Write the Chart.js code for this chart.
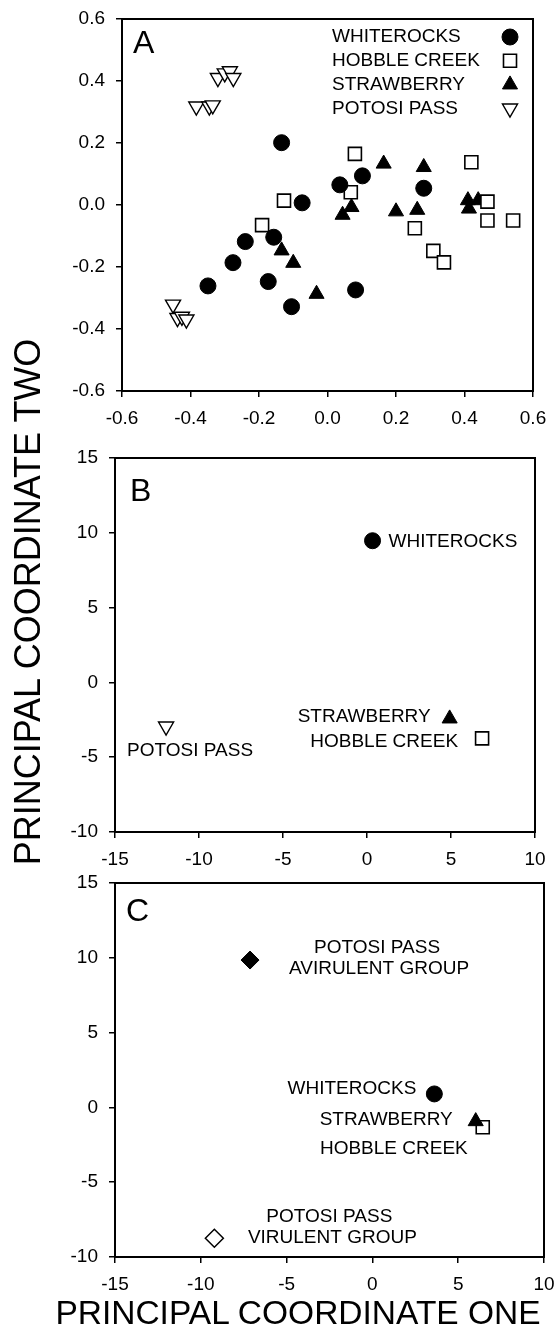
<!DOCTYPE html>
<html>
<head>
<meta charset="utf-8">
<script src="https://cdn.jsdelivr.net/npm/chart.js@4.4.0/dist/chart.umd.min.js"></script>
<style>
  html,body{margin:0;padding:0;background:#fff;}
  body{width:556px;height:1339px;position:relative;overflow:hidden;font-family:"Liberation Sans",Arial,sans-serif;}
  .panel{position:absolute;left:0;width:556px;}
  #ytitle{position:absolute;left:-272px;top:582px;width:600px;height:40px;line-height:40px;text-align:center;font-size:36px;color:#000;transform:rotate(-90deg);transform-origin:50% 50%;white-space:nowrap;}
  #xtitle{position:absolute;left:0;top:1293px;width:596px;height:40px;line-height:40px;text-align:center;font-size:33.5px;color:#000;white-space:nowrap;}
</style>
</head>
<body>
<div class="panel" style="top:0px;height:440px;"><canvas id="cA" width="556" height="440"></canvas></div>
<div class="panel" style="top:440px;height:440px;"><canvas id="cB" width="556" height="440"></canvas></div>
<div class="panel" style="top:860px;height:440px;"><canvas id="cC" width="556" height="440"></canvas></div>
<div id="ytitle">PRINCIPAL COORDINATE TWO</div>
<div id="xtitle">PRINCIPAL COORDINATE ONE</div>
<script>
// ---------------- DATA ----------------
// Panel A
const seriesNamesA = ['WHITEROCKS', 'HOBBLE CREEK', 'STRAWBERRY', 'POTOSI PASS'];
const whiterocksA = [
  [-0.134, 0.201], [-0.074, 0.007], [-0.240, -0.118], [-0.157, -0.104],
  [-0.276, -0.186], [-0.173, -0.247], [-0.349, -0.261], [-0.105, -0.328],
  [0.102, 0.094], [0.036, 0.065], [0.281, 0.054], [0.082, -0.274]
];
const hobbleCreekA = [
  [-0.127, 0.014], [-0.191, -0.065], [0.080, 0.165], [0.420, 0.138],
  [0.068, 0.041], [0.467, 0.011], [0.467, -0.050], [0.542, -0.050],
  [0.255, -0.075], [0.309, -0.148], [0.340, -0.185]
];
const strawberryA = [
  [-0.134, -0.147], [-0.100, -0.187], [-0.032, -0.287], [0.164, 0.133],
  [0.281, 0.122], [0.070, -0.007], [0.044, -0.032], [0.200, -0.021],
  [0.262, -0.016], [0.410, 0.015], [0.440, 0.015], [0.413, -0.012]
];
const potosiPassA = [
  [-0.320, 0.410], [-0.300, 0.425], [-0.285, 0.432], [-0.275, 0.410],
  [-0.383, 0.318], [-0.345, 0.318], [-0.335, 0.322],
  [-0.451, -0.321], [-0.438, -0.364], [-0.425, -0.360], [-0.412, -0.369]
];
const xTickValsA = [-0.6, -0.4, -0.2, 0.0, 0.2, 0.4, 0.6];
const xTickLabelsA = ['-0.6', '-0.4', '-0.2', '0.0', '0.2', '0.4', '0.6'];
const yTickValsA = [-0.6, -0.4, -0.2, 0.0, 0.2, 0.4, 0.6];
const yTickLabelsA = ['-0.6', '-0.4', '-0.2', '0.0', '0.2', '0.4', '0.6'];

// Panel B (group centroids)
const namesB = ['WHITEROCKS', 'STRAWBERRY', 'HOBBLE CREEK', 'POTOSI PASS'];
const xB = [0.33, 4.92, 6.85, -11.96];
const yB = [9.47, -2.42, -3.74, -2.94];
const xTickValsB = [-15, -10, -5, 0, 5, 10];
const xTickLabelsB = ['-15', '-10', '-5', '0', '5', '10'];
const yTickValsB = [-10, -5, 0, 5, 10, 15];
const yTickLabelsB = ['-10', '-5', '0', '5', '10', '15'];

// Panel C (group centroids, Potosi Pass split)
const namesC = [['POTOSI PASS', 'AVIRULENT GROUP'], ['WHITEROCKS'], ['STRAWBERRY'], ['HOBBLE CREEK'], ['POTOSI PASS', 'VIRULENT GROUP']];
const xC = [-7.13, 3.61, 6.02, 6.43, -9.21];
const yC = [9.85, 0.90, -0.93, -1.33, -8.75];
const xTickValsC = [-15, -10, -5, 0, 5, 10];
const xTickLabelsC = ['-15', '-10', '-5', '0', '5', '10'];
const yTickValsC = [-10, -5, 0, 5, 10, 15];
const yTickLabelsC = ['-10', '-5', '0', '5', '10', '15'];

// ---------------- STYLE / HELPERS ----------------
const FONT = '"Liberation Sans", Arial, Helvetica, sans-serif';
const BLACK = '#000';
const toPts = arr => arr.map(p => ({x: p[0], y: p[1]}));

const markerStyles = {
  WHITEROCKS: {pointStyle: 'circle', radius: 8, rotation: 0, bg: BLACK, bw: 1},
  HOBBLE: {pointStyle: 'rect', radius: 9.2, rotation: 0, bg: '#fff', bw: 1.6},
  STRAWBERRY: {pointStyle: 'triangle', radius: 8.7, rotation: 0, bg: BLACK, bw: 1},
  POTOSI: {pointStyle: 'triangle', radius: 8.7, rotation: 180, bg: '#fff', bw: 1.4},
  AVIR: {pointStyle: 'rectRot', radius: 9, rotation: 0, bg: BLACK, bw: 1},
  VIR: {pointStyle: 'rectRot', radius: 9, rotation: 0, bg: '#fff', bw: 1.5}
};
function ds(label, data, st) {
  return {
    label: label, data: data,
    pointStyle: st.pointStyle, pointRadius: st.radius, pointRotation: st.rotation,
    backgroundColor: st.bg, borderColor: BLACK, borderWidth: st.bw,
    pointBackgroundColor: st.bg, pointBorderColor: BLACK, pointBorderWidth: st.bw,
    pointHoverRadius: st.radius, showLine: false
  };
}

function axis(min, max, vals, labels, isX, fitSize) {
  return {
    type: 'linear', min: min, max: max,
    afterBuildTicks: s => { s.ticks = vals.map(v => ({value: v})); },
    ticks: {
      callback: (v, i) => labels[i],
      font: {family: FONT, size: 19}, color: BLACK,
      padding: isX ? 10 : 11, autoSkip: false, maxRotation: 0, minRotation: 0
    },
    grid: {drawOnChartArea: false, drawTicks: true, tickLength: 6, color: BLACK, lineWidth: 1.5},
    border: {display: true, color: BLACK, width: 2},
    afterFit: s => {
      if (isX) { s.height = fitSize; s.paddingLeft = 0; s.paddingRight = 0; }
      else { s.width = fitSize; s.paddingTop = 0; s.paddingBottom = 0; }
    }
  };
}

const framePlugin = {
  id: 'frame',
  afterDatasetsDraw(chart) {
    const a = chart.chartArea, ctx = chart.ctx;
    ctx.save();
    ctx.strokeStyle = BLACK; ctx.lineWidth = 2;
    ctx.beginPath();
    ctx.moveTo(a.left - 1, a.top); ctx.lineTo(a.right, a.top); ctx.lineTo(a.right, a.bottom + 1);
    ctx.stroke();
    ctx.restore();
  }
};

function panelLabelPlugin(text, dx, dy) {
  return {
    id: 'panelLabel',
    afterDraw(chart) {
      const a = chart.chartArea, ctx = chart.ctx;
      ctx.save();
      ctx.fillStyle = BLACK; ctx.font = '32px ' + FONT;
      ctx.textAlign = 'left'; ctx.textBaseline = 'middle';
      ctx.fillText(text, a.left + dx, a.top + dy);
      ctx.restore();
    }
  };
}

// annotations: per dataset, label lines placed relative to the marker
function annotationPlugin(specs) {
  return {
    id: 'annot',
    afterDraw(chart) {
      const ctx = chart.ctx;
      ctx.save();
      ctx.fillStyle = BLACK; ctx.font = '19px ' + FONT; ctx.textBaseline = 'middle';
      specs.forEach(sp => {
        const el = chart.getDatasetMeta(sp.ds).data[0];
        sp.lines.forEach((ln, k) => {
          ctx.textAlign = sp.align;
          ctx.fillText(ln, el.x + sp.dx[k], el.y + sp.dy[k]);
        });
      });
      ctx.restore();
    }
  };
}

const legendPlugin = {
  id: 'legendA',
  afterDraw(chart) {
    const ctx = chart.ctx;
    ctx.save();
    const tx = 332, mx = 510, y0 = 37, dy = 23.8;
    chart.data.datasets.forEach((d, i) => {
      const y = y0 + i * dy;
      ctx.fillStyle = BLACK; ctx.font = '19px ' + FONT;
      ctx.textAlign = 'left'; ctx.textBaseline = 'middle';
      ctx.fillText(d.label, tx, y);
      ctx.fillStyle = d.pointBackgroundColor; ctx.strokeStyle = BLACK; ctx.lineWidth = d.pointBorderWidth;
      Chart.helpers.drawPoint(ctx, {pointStyle: d.pointStyle, radius: d.pointRadius, rotation: d.pointRotation, borderWidth: d.pointBorderWidth}, mx, y);
    });
    ctx.restore();
  }
};

const baseOpts = (padding, scales) => ({
  responsive: false, animation: false, devicePixelRatio: 1,
  layout: {padding: padding},
  plugins: {legend: {display: false}, tooltip: {enabled: false}},
  events: [],
  scales: scales
});

// ---------------- PANEL A ----------------
new Chart(document.getElementById('cA'), {
  type: 'scatter',
  data: {datasets: [
    ds(seriesNamesA[0], toPts(whiterocksA), markerStyles.WHITEROCKS),
    ds(seriesNamesA[1], toPts(hobbleCreekA), markerStyles.HOBBLE),
    ds(seriesNamesA[2], toPts(strawberryA), markerStyles.STRAWBERRY),
    ds(seriesNamesA[3], toPts(potosiPassA), markerStyles.POTOSI)
  ]},
  options: baseOpts({top: 19, right: 23, left: 0, bottom: 0}, {
    x: axis(-0.6, 0.6, xTickValsA, xTickLabelsA, true, 49),
    y: axis(-0.6, 0.6, yTickValsA, yTickLabelsA, false, 122)
  }),
  plugins: [framePlugin, panelLabelPlugin('A', 11, 25), legendPlugin]
});

// ---------------- PANEL B ----------------
const stB = [markerStyles.WHITEROCKS, markerStyles.STRAWBERRY, markerStyles.HOBBLE, markerStyles.POTOSI];
new Chart(document.getElementById('cB'), {
  type: 'scatter',
  data: {datasets: namesB.map((n, i) => ds(n, [{x: xB[i], y: yB[i]}], stB[i]))},
  options: baseOpts({top: 18, right: 21, left: 0, bottom: 0}, {
    x: axis(-15, 10, xTickValsB, xTickLabelsB, true, 48),
    y: axis(-10, 15, yTickValsB, yTickLabelsB, false, 115)
  }),
  plugins: [framePlugin, panelLabelPlugin('B', 15, 34), annotationPlugin([
    {ds: 0, lines: [namesB[0]], align: 'left', dx: [16], dy: [1]},
    {ds: 1, lines: [namesB[1]], align: 'right', dx: [-19], dy: [-2]},
    {ds: 2, lines: [namesB[2]], align: 'right', dx: [-24], dy: [3]},
    {ds: 3, lines: [namesB[3]], align: 'center', dx: [24], dy: [24]}
  ])]
});

// ---------------- PANEL C ----------------
const stC = [markerStyles.AVIR, markerStyles.WHITEROCKS, markerStyles.STRAWBERRY, markerStyles.HOBBLE, markerStyles.VIR];
new Chart(document.getElementById('cC'), {
  type: 'scatter',
  data: {datasets: namesC.map((n, i) => ds(n.join(' '), [{x: xC[i], y: yC[i]}], stC[i]))},
  options: baseOpts({top: 23, right: 12, left: 0, bottom: 0}, {
    x: axis(-15, 10, xTickValsC, xTickLabelsC, true, 43),
    y: axis(-10, 15, yTickValsC, yTickLabelsC, false, 115)
  }),
  plugins: [framePlugin, panelLabelPlugin('C', 11, 29), annotationPlugin([
    {ds: 0, lines: namesC[0], align: 'center', dx: [127, 129], dy: [-12, 9]},
    {ds: 1, lines: namesC[1], align: 'right', dx: [-18], dy: [-5]},
    {ds: 2, lines: namesC[2], align: 'right', dx: [-23], dy: [-2]},
    {ds: 3, lines: namesC[3], align: 'right', dx: [-15], dy: [21]},
    {ds: 4, lines: namesC[4], align: 'center', dx: [115, 118], dy: [-22, -1]}
  ])]
});
</script>
</body>
</html>
